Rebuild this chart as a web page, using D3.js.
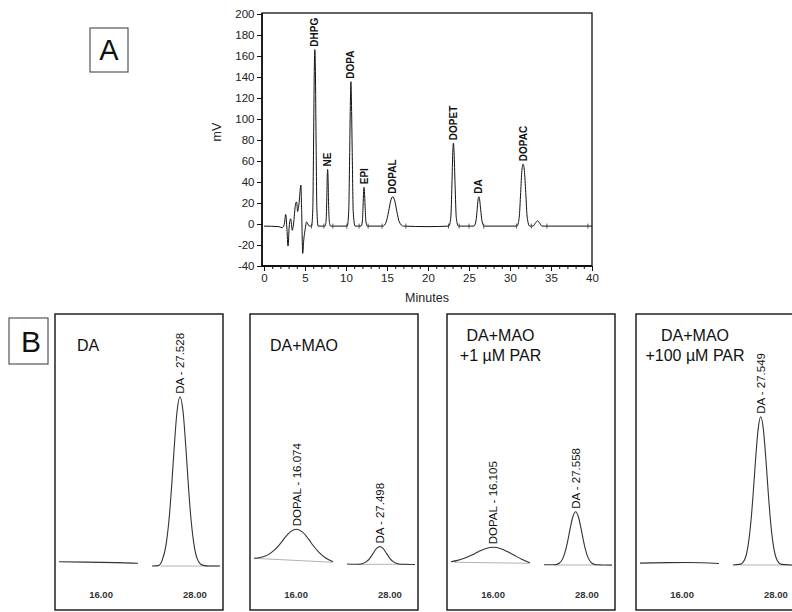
<!DOCTYPE html>
<html><head><meta charset="utf-8">
<script src="https://cdn.jsdelivr.net/npm/d3@7"></script>
<style>body{margin:0;background:#fff}svg{display:block}</style>
</head><body>
<svg id="chart" width="792" height="612"></svg>
<script>
// ---------------- DATA: Panel A ----------------
const xTicksA = [0,5,10,15,20,25,30,35,40];
const yTicksA = [-40,-20,0,20,40,60,80,100,120,140,160,180,200];
const peakNamesA   = ["DHPG","NE","DOPA","EPI","DOPAL","DOPET","DA","DOPAC"];
const peakTimesA   = [6.2, 7.76, 10.6, 12.2, 15.7, 23.1, 26.2, 31.6];
const peakHeightsA = [166, 52, 135.5, 35, 26, 77, 26, 57];
// trace pieces [minutes, mV]
const noiseA = [[0,-2],[1.8,-2.5],[2.2,-3.5],[2.45,-1],[2.65,9],[2.8,-5],[2.93,-21],[3.08,-2],[3.25,5],[3.45,-6],[3.6,0],[3.85,19],[3.98,21],[4.1,12],[4.25,18],[4.5,37],[4.6,10],[4.72,-28],[4.85,-15],[5.0,-6],[5.2,2],[5.4,-1],[5.6,-2]];
const dhpgA  = [[5.8,-2],[5.95,14],[6.05,80],[6.13,145],[6.2,166],[6.27,145],[6.35,80],[6.45,14],[6.6,-2]];
const neA    = [[7.45,-2],[7.58,4],[7.66,25],[7.71,45],[7.76,52],[7.81,45],[7.86,25],[7.95,4],[8.1,-2]];
const dopaA  = [[10.15,-2],[10.33,12],[10.45,68],[10.54,118],[10.6,135.5],[10.66,118],[10.76,68],[10.88,12],[11.1,-2]];
const epiA   = [[11.85,-2],[12.0,3],[12.08,17],[12.15,31],[12.2,35],[12.25,31],[12.33,17],[12.42,3],[12.6,-2]];
const dopalA = [[14.5,-2],[14.9,2],[15.2,12],[15.45,22],[15.7,26],[15.95,22],[16.2,12],[16.5,2],[17.0,-2],[20,-2.5]];
const dopetA = [[22.55,-2],[22.78,6],[22.92,38],[23.02,68],[23.1,77],[23.18,68],[23.3,38],[23.45,6],[23.7,-2]];
const daA    = [[25.6,-2],[25.85,3],[26.0,14],[26.1,23],[26.2,26],[26.3,23],[26.42,14],[26.58,3],[26.85,-2]];
const dopacA = [[30.85,-2],[31.12,6],[31.3,30],[31.45,51],[31.6,57],[31.75,51],[31.92,30],[32.1,6],[32.4,-2]];
const tailA  = [[32.8,-2],[33.1,1],[33.35,3],[33.6,1],[33.9,-2],[40,-2]];
const markerTimesA = [5.8,7.3,8.4,10.1,11.6,12.7,14.4,17.3,22.5,23.8,25.0,26.8,30.8,32.6,34.5,39.5];
const baselineA = -2;

// ---------------- DATA: Panel B ----------------
const bTitles = [["DA"],["DA+MAO"],["DA+MAO","+1 µM PAR"],["DA+MAO","+100 µM PAR"]];
const bTickLabels = ["16.00","28.00"];
const bTickValues = [16, 28];
// left segment (around 16 min) traces [minutes, signal]
const bLeft1 = [[14.59,2.5],[15.5,2.3],[16.5,2.0],[17.24,1.6]];
const bLeft2 = [[14.59,4.6],[14.8,5.0],[15.07,6.7],[15.27,9.3],[15.46,12.9],[15.62,16.5],[15.82,20.2],[16.02,21.6],[16.22,19.9],[16.42,15.8],[16.58,11.9],[16.77,8.0],[16.97,5.0],[17.24,2.5]];
const bLeft3 = [[14.59,2.5],[14.81,3.3],[15.06,4.7],[15.31,6.6],[15.51,8.4],[15.76,10.3],[16.01,11.0],[16.26,10.2],[16.51,8.2],[16.71,6.3],[16.96,4.0],[17.24,1.8]];
const bLeft4 = [[14.59,1.7],[15.5,2.0],[16.2,2.1],[17.24,1.5]];
// right segment (around 28 min)
const bRight1 = [[26.56,0],[26.77,0.2],[26.9,3.3],[27.04,13.5],[27.15,31],[27.23,50],[27.3,68.5],[27.4,91],[27.5,99.6],[27.6,91],[27.7,68.5],[27.77,50],[27.85,31],[27.96,13.5],[28.1,3.3],[28.25,0.5],[28.5,0],[28.84,0]];
const bRight2 = [[26.56,1.2],[26.95,1.0],[27.06,1.34],[27.2,2.4],[27.31,4.2],[27.39,6.2],[27.46,8.1],[27.56,10.5],[27.66,11.4],[27.76,10.5],[27.86,8.1],[27.93,6.2],[28.01,4.2],[28.12,2.4],[28.26,1.34],[28.45,1.0],[28.84,0.9]];
const bRight3 = [[26.56,0.7],[26.92,0.7],[27.07,1.6],[27.2,4.8],[27.3,10.4],[27.37,16.0],[27.44,22.3],[27.53,29.1],[27.62,31.9],[27.71,29.1],[27.8,22.3],[27.87,16.0],[27.94,10.4],[28.04,4.8],[28.17,1.6],[28.32,0.7],[28.84,0.5]];
const bRight4 = [[26.56,0.6],[26.79,0.95],[26.94,3.4],[27.07,12.4],[27.17,27.9],[27.24,43.5],[27.31,61.0],[27.4,80.1],[27.49,87.8],[27.58,80.1],[27.67,61.0],[27.74,43.5],[27.81,27.9],[27.91,12.4],[28.04,3.4],[28.19,0.95],[28.5,0.6],[28.84,0.5]];
const bLeftTraces = [bLeft1,bLeft2,bLeft3,bLeft4];
const bRightTraces = [bRight1,bRight2,bRight3,bRight4];
// integration baselines [t0,v0,t1,v1]
const bLeftBase  = [null,[14.62,4.5,17.22,2.2],[14.7,2.2,17.2,1.6],null];
const bRightBase = [[26.85,0,28.8,0],[26.9,1.0,28.6,1.0],[26.9,0.6,28.5,0.6],[26.8,0.6,28.6,0.6]];
// peak labels: [segment, minutes, signal, text]
const bPeakLabels = [
  [["R",27.5,99.6,"DA - 27.528"]],
  [["L",16.02,21.6,"DOPAL - 16.074"],["R",27.66,11.4,"DA - 27.498"]],
  [["L",16.01,11.0,"DOPAL - 16.105"],["R",27.62,31.9,"DA - 27.558"]],
  [["R",27.49,87.8,"DA - 27.549"]]
];

// ---------------- DRAW ----------------
const svg = d3.select("#chart").style("font-family","'Liberation Sans', Arial, sans-serif");

// Panel A
const xA = d3.scaleLinear().domain([0,40]).range([264,592]);
const yA = d3.scaleLinear().domain([-40,200]).range([266,14]);
const gA = svg.append("g");

gA.append("rect").attr("x",262).attr("y",13).attr("width",330).attr("height",253)
  .attr("fill","none").attr("stroke","#111").attr("stroke-width",1.3);
gA.append("line").attr("x1",262).attr("x2",592).attr("y1",266).attr("y2",266).attr("stroke","#111").attr("stroke-width",2);
gA.append("line").attr("x1",262).attr("x2",262).attr("y1",13).attr("y2",266).attr("stroke","#111").attr("stroke-width",1.6);

const axL = gA.append("g").attr("transform","translate(262,0)")
  .call(d3.axisLeft(yA).tickValues(yTicksA).tickSize(5).tickPadding(2.5).tickFormat(d=>String(d)));
const axB = gA.append("g").attr("transform","translate(0,266)")
  .call(d3.axisBottom(xA).tickValues(xTicksA).tickSize(5).tickPadding(2.5).tickFormat(d=>String(d)));
const axBm = gA.append("g").attr("transform","translate(0,266)")
  .call(d3.axisBottom(xA).tickValues(d3.range(0,41,1)).tickSize(3).tickFormat(""));
[axL,axB,axBm].forEach(a=>{a.select(".domain").remove();a.selectAll("line").attr("stroke","#111").attr("stroke-width",1);
  a.selectAll("text").attr("font-size",11.5).attr("fill","#222").attr("font-family","'Liberation Sans', Arial, sans-serif");});

gA.append("text").attr("x",427).attr("y",302).attr("text-anchor","middle").attr("font-size",12.5).attr("fill","#222").text("Minutes");
gA.append("text").attr("transform","translate(221,132) rotate(-90)").attr("text-anchor","middle").attr("font-size",12.5).attr("fill","#222").text("mV");

const traceA = [].concat(noiseA,dhpgA,neA,dopaA,epiA,dopalA,dopetA,daA,dopacA,tailA);
const lineA = d3.line().x(d=>xA(d[0])).y(d=>yA(d[1])).curve(d3.curveMonotoneX);
gA.append("path").datum(traceA).attr("d",lineA).attr("fill","none").attr("stroke","#111").attr("stroke-width",1);
gA.selectAll("line.mk").data(markerTimesA).join("line").attr("class","mk")
  .attr("x1",d=>xA(d)).attr("x2",d=>xA(d)).attr("y1",yA(baselineA)-2.5).attr("y2",yA(baselineA)+2.5)
  .attr("stroke","#333").attr("stroke-width",0.8);

gA.selectAll("text.pk").data(peakNamesA).join("text").attr("class","pk")
  .attr("transform",(d,i)=>`translate(${xA(peakTimesA[i])},${yA(peakHeightsA[i])-3}) rotate(-90)`)
  .attr("dy","0.35em").attr("font-size",10).attr("font-weight","bold").attr("fill","#111").text(d=>d);

// "A" box
svg.append("rect").attr("x",90).attr("y",28).attr("width",38).attr("height",44).attr("fill","#fff").attr("stroke","#555").attr("stroke-width",1.2);
svg.append("text").attr("x",109).attr("y",60).attr("text-anchor","middle").attr("font-size",29).attr("fill","#111").text("A");

// "B" box
svg.append("rect").attr("x",9).attr("y",318).attr("width",39).attr("height",46).attr("fill","#fff").attr("stroke","#555").attr("stroke-width",1.2);
svg.append("text").attr("x",31).attr("y",352).attr("text-anchor","middle").attr("font-size",30).attr("fill","#111").text("B");

// Panel B
const boxLeft = [55,250,447,636];
const titleX = [22,20,53.5,59];
const titleAnchor = ["start","start","middle","middle"];
const xL = d3.scaleLinear().domain([14.59,17.24]).range([4,83]);
const xR = d3.scaleLinear().domain([26.56,28.84]).range([97,165]);
const yB = d3.scaleLinear().domain([0,100]).range([566,396]);
const lineL = d3.line().x(d=>xL(d[0])).y(d=>yB(d[1])).curve(d3.curveMonotoneX);
const lineR = d3.line().x(d=>xR(d[0])).y(d=>yB(d[1])).curve(d3.curveMonotoneX);

bTitles.forEach((lines,i)=>{
  const g = svg.append("g").attr("transform",`translate(${boxLeft[i]},0)`);
  g.append("rect").attr("x",0).attr("y",314).attr("width",168).attr("height",296)
    .attr("fill","none").attr("stroke","#222").attr("stroke-width",1.5);
  lines.forEach((t,j)=>{
    g.append("text").attr("x",titleX[i]).attr("y",(lines.length===1?351:341)+j*19.5)
      .attr("text-anchor",titleAnchor[i]).attr("font-size",16).attr("fill","#111").text(t);
  });
  [[bLeftBase[i],xL],[bRightBase[i],xR]].forEach(([b,sx])=>{
    if(!b) return;
    g.append("line").attr("x1",sx(b[0])).attr("y1",yB(b[1])).attr("x2",sx(b[2])).attr("y2",yB(b[3]))
      .attr("stroke","#aaa").attr("stroke-width",0.9);
  });
  g.append("path").datum(bLeftTraces[i]).attr("d",lineL).attr("fill","none").attr("stroke","#333").attr("stroke-width",1.1);
  g.append("path").datum(bRightTraces[i]).attr("d",lineR).attr("fill","none").attr("stroke","#333").attr("stroke-width",1.1);
  bPeakLabels[i].forEach(p=>{
    const sx = p[0]==="L"?xL:xR;
    g.append("text").attr("transform",`translate(${sx(p[1])},${yB(p[2])-3}) rotate(-90)`)
      .attr("dy","0.35em").attr("font-size",11.5).attr("fill","#111").text(p[3]);
  });
  g.append("text").attr("x",xL(bTickValues[0])).attr("y",598).attr("text-anchor","middle")
    .attr("font-size",9.5).attr("font-weight","bold").attr("fill","#333").text(bTickLabels[0]);
  g.append("text").attr("x",xR(bTickValues[1])).attr("y",598).attr("text-anchor","middle")
    .attr("font-size",9.5).attr("font-weight","bold").attr("fill","#333").text(bTickLabels[1]);
});
</script>
</body></html>
